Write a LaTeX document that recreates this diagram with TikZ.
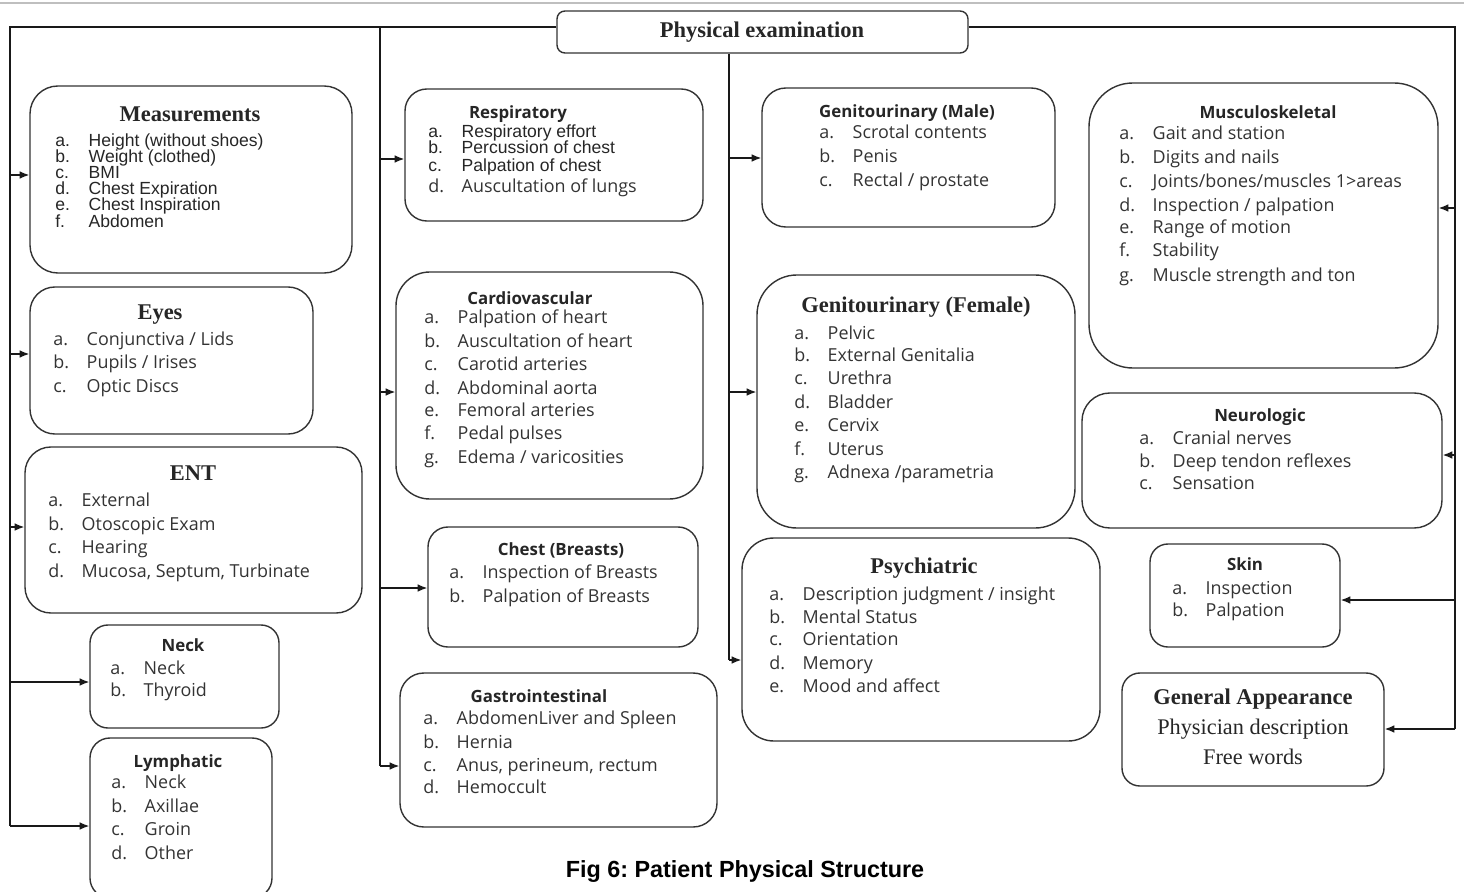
\documentclass[tikz,border=0pt]{standalone}
\usepackage{fontspec}
\setmainfont{Liberation Serif}
\newfontfamily\osf{Open Sans}
\newfontfamily\arf{Liberation Sans}
\usetikzlibrary{arrows.meta}
\frenchspacing
\newcommand\bx[6]{%
  \pgfmathsetmacro\bw{(#4-#2)*0.02}%
  \pgfmathsetmacro\bh{(#5-#3)*0.02}%
  \pgfmathsetmacro\br{#6*0.567}%
  \node[box,minimum width=\bw cm,minimum height=\bh cm,rounded corners=\br pt] (#1) at ({(#2+#4)/2},{(#3+#5)/2}) {};}
\newcommand\itm[6]{\node[#6] (#1) at (#2,#3) {\makebox[19pt][l]{#4}#5};}
\begin{document}
\begin{tikzpicture}[x=0.02cm,y=-0.02cm,
  box/.style={draw=black!80,line width=0.8pt,inner sep=0pt},
  ln/.style={draw=black!90,line width=0.8pt},
  arr/.style={ln,-{Latex[length=5.5pt,width=4.4pt]}},
  txt/.style={inner sep=0pt,yshift=-0.04cm},
  sttl/.style={txt,font=\fontsize{12.8}{14}\selectfont\bfseries,text=black!85,anchor=mid},
  srm/.style={txt,font=\fontsize{12.7}{14}\selectfont,text=black!85,anchor=mid},
  ottl/.style={txt,font=\osf\fontsize{9.6}{11}\selectfont\bfseries,text=black!85,anchor=mid},
  oit/.style={txt,font=\osf\fontsize{10.2}{12}\selectfont,text=black!80,anchor=mid west},
  ait/.style={txt,font=\arf\fontsize{10}{12}\selectfont,text=black!85,anchor=mid west},
  captext/.style={txt,font=\arf\fontsize{13.3}{15}\selectfont\bfseries,anchor=mid}]
\useasboundingbox (0,0) rectangle (1464,892);
\draw[black!25,line width=0.8pt] (0,3) -- (1464,3);

% main node
\bx{PE}{557}{11}{968}{53}{8}
\node[sttl,yshift=-0.02cm] (PEt) at (762,30) {Physical examination};

% boxes
\bx{meas}{30}{86}{352}{273}{28}
\bx{eyes}{30}{287}{313}{434}{25}
\bx{ent}{25}{447}{362}{613}{26}
\bx{neck}{90}{625}{279}{728}{18}
\bx{lymph}{90}{738}{272}{898}{20}
\bx{resp}{405}{89}{703}{221}{22}
\bx{card}{396}{272}{703}{499}{34}
\bx{chest}{428}{527}{698}{647}{20}
\bx{gi}{400}{673}{717}{827}{24}
\bx{gum}{762}{88}{1055}{227}{24}
\bx{guf}{757}{275}{1075}{528}{40}
\bx{psy}{742}{538}{1100}{741}{32}
\bx{musc}{1089}{83}{1438}{368}{44}
\bx{neur}{1082}{393}{1442}{528}{28}
\bx{skin}{1150}{544}{1340}{647}{18}
\bx{ga}{1122}{673}{1384}{786}{18}

% Measurements
\node[sttl] (meast) at (190,115) {Measurements};
\itm{m1}{55}{140}{a.}{Height (without shoes)}{ait}
\itm{m2}{55}{156}{b.}{Weight (clothed)}{ait}
\itm{m3}{55}{172}{c.}{BMI}{ait}
\itm{m4}{55}{188}{d.}{Chest Expiration}{ait}
\itm{m5}{55}{204}{e.}{Chest Inspiration}{ait}
\itm{m6}{55}{221}{f.}{Abdomen}{ait}
% Eyes
\node[sttl] (eyest) at (160,313) {Eyes};
\itm{e1}{53}{339}{a.}{Conjunctiva / Lids}{oit}
\itm{e2}{53}{362}{b.}{Pupils / Irises}{oit}
\itm{e3}{53}{386}{c.}{Optic Discs}{oit}
% ENT
\node[sttl] (entt) at (193,474) {ENT};
\itm{n1}{48}{500}{a.}{External}{oit}
\itm{n2}{48}{524}{b.}{Otoscopic Exam}{oit}
\itm{n3}{48}{547}{c.}{Hearing}{oit}
\itm{n4}{48}{571}{d.}{Mucosa, Septum, Turbinate}{oit}
% Neck
\node[ottl] (neckt) at (183,645) {Neck};
\itm{k1}{110}{668}{a.}{Neck}{oit}
\itm{k2}{110}{690}{b.}{Thyroid}{oit}
% Lymphatic
\node[ottl] (lymt) at (178,761) {Lymphatic};
\itm{l1}{111}{782}{a.}{Neck}{oit}
\itm{l2}{111}{806}{b.}{Axillae}{oit}
\itm{l3}{111}{829}{c.}{Groin}{oit}
\itm{l4}{111}{853}{d.}{Other}{oit}
% Respiratory
\node[ottl] (respt) at (518,112) {Respiratory};
\itm{r1}{428}{131}{a.}{Respiratory effort}{ait}
\itm{r2}{428}{147}{b.}{Percussion of chest}{ait}
\itm{r3}{428}{165}{c.}{Palpation of chest}{ait}
\itm{r4}{428}{186}{d.}{Auscultation of lungs}{oit}
% Cardiovascular
\node[ottl] (cardt) at (530,298) {Cardiovascular};
\itm{c1}{424}{317}{a.}{Palpation of heart}{oit}
\itm{c2}{424}{341}{b.}{Auscultation of heart}{oit}
\itm{c3}{424}{364}{c.}{Carotid arteries}{oit}
\itm{c4}{424}{388}{d.}{Abdominal aorta}{oit}
\itm{c5}{424}{410}{e.}{Femoral arteries}{oit}
\itm{c6}{424}{433}{f.}{Pedal pulses}{oit}
\itm{c7}{424}{457}{g.}{Edema / varicosities}{oit}
% Chest
\node[ottl] (chestt) at (561,549) {Chest (Breasts)};
\itm{h1}{449}{572}{a.}{Inspection of Breasts}{oit}
\itm{h2}{449}{596}{b.}{Palpation of Breasts}{oit}
% GI
\node[ottl] (git) at (539,696) {Gastrointestinal};
\itm{g1}{423}{718}{a.}{AbdomenLiver and Spleen}{oit}
\itm{g2}{423}{742}{b.}{Hernia}{oit}
\itm{g3}{423}{765}{c.}{Anus, perineum, rectum}{oit}
\itm{g4}{423}{787}{d.}{Hemoccult}{oit}
% GU male
\node[ottl] (gumt) at (907,111) {Genitourinary (Male)};
\itm{u1}{819}{132}{a.}{Scrotal contents}{oit}
\itm{u2}{819}{156}{b.}{Penis}{oit}
\itm{u3}{819}{180}{c.}{Rectal / prostate}{oit}
% GU female
\node[sttl] (guft) at (916,306) {Genitourinary (Female)};
\itm{f1}{794}{333}{a.}{Pelvic}{oit}
\itm{f2}{794}{355}{b.}{External Genitalia}{oit}
\itm{f3}{794}{378}{c.}{Urethra}{oit}
\itm{f4}{794}{402}{d.}{Bladder}{oit}
\itm{f5}{794}{425}{e.}{Cervix}{oit}
\itm{f6}{794}{449}{f.}{Uterus}{oit}
\itm{f7}{794}{472}{g.}{Adnexa /parametria}{oit}
% Psychiatric
\node[sttl] (psyt) at (924,567) {Psychiatric};
\itm{p1}{769}{594}{a.}{Description judgment / insight}{oit}
\itm{p2}{769}{617}{b.}{Mental Status}{oit}
\itm{p3}{769}{639}{c.}{Orientation}{oit}
\itm{p4}{769}{663}{d.}{Memory}{oit}
\itm{p5}{769}{686}{e.}{Mood and affect}{oit}
% Musculoskeletal
\node[ottl] (musct) at (1268,112) {Musculoskeletal};
\itm{s1}{1119}{133}{a.}{Gait and station}{oit}
\itm{s2}{1119}{157}{b.}{Digits and nails}{oit}
\itm{s3}{1119}{181}{c.}{Joints/bones/muscles 1>areas}{oit}
\itm{s4}{1119}{205}{d.}{Inspection / palpation}{oit}
\itm{s5}{1119}{227}{e.}{Range of motion}{oit}
\itm{s6}{1119}{250}{f.}{Stability}{oit}
\itm{s7}{1119}{275}{g.}{Muscle strength and ton}{oit}
% Neurologic
\node[ottl] (neurt) at (1260,415) {Neurologic};
\itm{o1}{1139}{438}{a.}{Cranial nerves}{oit}
\itm{o2}{1139}{461}{b.}{Deep tendon reflexes}{oit}
\itm{o3}{1139}{483}{c.}{Sensation}{oit}
% Skin
\node[ottl] (skint) at (1245,564) {Skin};
\itm{k3}{1172}{588}{a.}{Inspection}{oit}
\itm{k4}{1172}{610}{b.}{Palpation}{oit}
% General appearance
\node[sttl] (gat) at (1253,698) {General Appearance};
\node[srm] (ga1) at (1253,728) {Physician description};
\node[srm] (ga2) at (1253,758) {Free words};

% caption
\node[captext] (figcap) at (745,871) {Fig 6: Patient Physical Structure};

% trunks
\coordinate (tl) at (10,27);
\coordinate (tm) at (380,27);
\coordinate (tr) at (1455,27);
\coordinate (lb) at (10,826);
\coordinate (mb) at (380,766);
\coordinate (cb) at (729,660);
\coordinate (rb) at (1455,729);
\draw[ln] (PE.west |- tl) -- (tl) -- (lb);
\draw[ln] (tm) -- (mb);
\draw[ln] (PE.east |- tr) -- (tr) -- (rb);
\draw[ln] (cb |- PE.south) -- (cb);
% left arrows
\coordinate (a1) at (10,175);
\coordinate (a2) at (10,354);
\coordinate (a3) at (10,527);
\coordinate (a4) at (10,682);
\draw[arr] (a1) -- (meas.west |- a1);
\draw[arr] (a2) -- (eyes.west |- a2);
\draw[arr] (a3) -- (ent.west |- a3);
\draw[arr] (a4) -- (neck.west |- a4);
\draw[arr] (lb) -- (lymph.west |- lb);
% middle arrows
\coordinate (b1) at (380,159);
\coordinate (b2) at (380,392);
\coordinate (b3) at (380,588);
\draw[arr] (b1) -- (resp.west |- b1);
\draw[arr] (b2) -- (card.west |- b2);
\draw[arr] (b3) -- (chest.west |- b3);
\draw[arr] (mb) -- (gi.west |- mb);
% third column arrows
\coordinate (d1) at (729,158);
\coordinate (d2) at (729,392);
\draw[arr] (d1) -- (gum.west |- d1);
\draw[arr] (d2) -- (guf.west |- d2);
\draw[arr] (cb) -- (psy.west |- cb);
% right arrows
\coordinate (e1) at (1455,208);
\coordinate (e2) at (1455,455);
\coordinate (e3) at (1455,600);
\draw[arr] (e1) -- (musc.east |- e1);
\draw[arr] (e2) -- (neur.east |- e2);
\draw[arr] (e3) -- (skin.east |- e3);
\draw[arr] (rb) -- (ga.east |- rb);
\end{tikzpicture}
\end{document}
